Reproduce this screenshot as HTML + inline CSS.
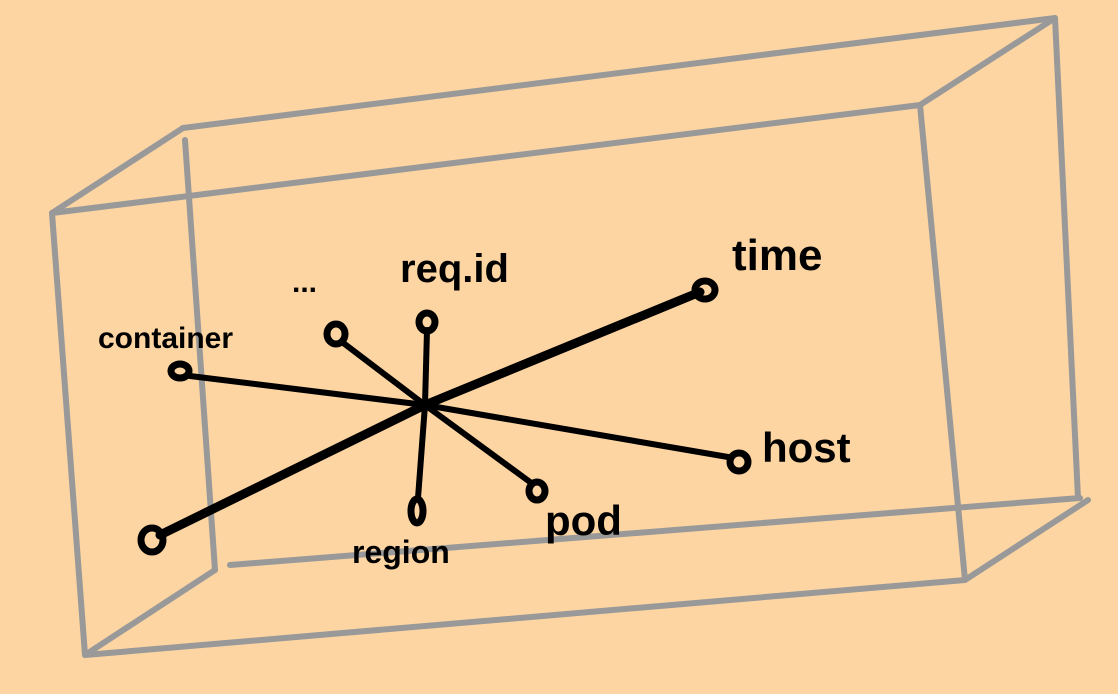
<!DOCTYPE html>
<html><head><meta charset="utf-8"><style>
html,body{margin:0;padding:0;background:#fdd5a2;}
svg{display:block}
text{font-family:"Liberation Sans",sans-serif;font-weight:bold;fill:#000}
</style></head><body>
<svg width="1118" height="694" viewBox="0 0 1118 694">
<rect width="1118" height="694" fill="#fdd5a2"/>
<g stroke="#999" stroke-width="6" fill="none" stroke-linecap="round" stroke-linejoin="round">
<path d="M183 128 L1055 18 M185 140 L215 570 M230 565 L1080 498 M1055 18 L1078 498"/>
<path d="M52 213 L920 105 M52 213 L85 655 M85 655 L965 580 M920 105 L965 580"/>
<path d="M52 213 L183 128 M920 105 L1055 18 M965 580 L1088 500 M85 655 L215 570"/>
</g>
<g stroke="#000" stroke-linecap="round" fill="none">
<line x1="425" y1="405" x2="700" y2="292" stroke-width="9"/>
<line x1="425" y1="405" x2="160" y2="535" stroke-width="9"/>
<line x1="425" y1="405" x2="190" y2="376" stroke-width="6"/>
<line x1="425" y1="405" x2="342" y2="342" stroke-width="6"/>
<line x1="425" y1="405" x2="427" y2="330" stroke-width="6"/>
<line x1="425" y1="405" x2="728" y2="457" stroke-width="6"/>
<line x1="425" y1="405" x2="530" y2="482" stroke-width="6"/>
<line x1="425" y1="405" x2="418" y2="498" stroke-width="6"/>
</g>
<g stroke="#000" stroke-width="7" fill="none">
<ellipse cx="705" cy="290" rx="10" ry="9"/>
<ellipse cx="152" cy="540" rx="11" ry="12"/>
<ellipse cx="180" cy="371" rx="9" ry="7"/>
<ellipse cx="336" cy="334" rx="9" ry="10"/>
<ellipse cx="427" cy="322" rx="8" ry="9"/>
<ellipse cx="739" cy="462" rx="9" ry="9"/>
<ellipse cx="537" cy="491" rx="8" ry="9"/>
<ellipse cx="417" cy="511" rx="6" ry="12"/>
</g>
<text x="732" y="270" font-size="44">time</text>
<text x="400" y="282" font-size="40">req.id</text>
<text x="292" y="292" font-size="30">...</text>
<text x="98" y="348" font-size="30">container</text>
<text x="762" y="462" font-size="42">host</text>
<text x="545" y="535" font-size="42">pod</text>
<text x="352" y="563" font-size="32">region</text>
</svg>
</body></html>
